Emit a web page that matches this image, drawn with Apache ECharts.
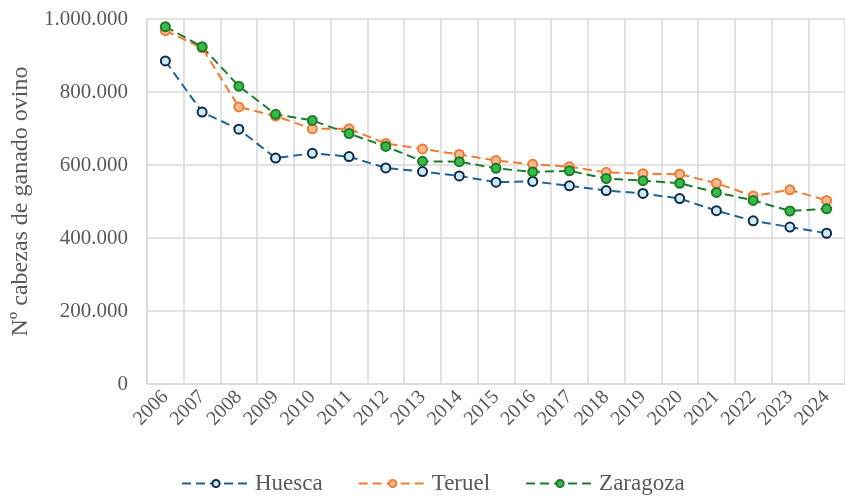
<!DOCTYPE html>
<html>
<head>
<meta charset="utf-8">
<script src="https://cdn.jsdelivr.net/npm/echarts@6/dist/echarts.min.js"></script>
<style>
  html, body { margin: 0; padding: 0; background: #fff; }
  #chart { width: 845px; height: 498px; }
</style>
</head>
<body>
<div id="chart"></div>
<script>
// datos
var years = ['2006','2007','2008','2009','2010','2011','2012','2013','2014','2015',
             '2016','2017','2018','2019','2020','2021','2022','2023','2024'];
var huesca = [885000, 745000, 698000, 619000, 632000, 623000, 592000, 582000, 570000, 553000,
              555000, 543000, 530000, 522000, 508000, 475000, 447000, 430000, 413000];
var teruel = [968000, 921000, 759000, 734000, 699000, 699000, 659000, 644000, 629000, 612000,
              602000, 595000, 580000, 576000, 575000, 550000, 515000, 532000, 503000];
var zaragoza = [979000, 924000, 816000, 739000, 722000, 686000, 651000, 610000, 609000, 591000,
                581000, 584000, 563000, 557000, 550000, 525000, 503000, 474000, 480000];

var serif = 'Liberation Serif';
var grey = '#595959';

function fmt(v) {
    return String(v).replace(/\B(?=(\d{3})+(?!\d))/g, '.');
}

function serie(name, data, line, fill, border) {
    return {
        name: name,
        type: 'line',
        data: data,
        symbol: 'circle',
        symbolSize: 9,
        lineStyle: { color: line, width: 2, type: [9, 5] },
        itemStyle: { color: fill, borderColor: border, borderWidth: 2 }
    };
}

var chart = echarts.init(document.getElementById('chart'));
chart.setOption({
    animation: false,
    grid: { left: 147, right: -8, top: 19, bottom: 114 },
    legend: {
        top: 467,
        left: 176,
        itemWidth: 68,
        itemHeight: 9,
        itemGap: 35,
        textStyle: { fontFamily: serif, fontSize: 23, color: grey }
    },
    xAxis: {
        type: 'category',
        data: years,
        boundaryGap: true,
        axisLine: { lineStyle: { color: '#d9d9d9', width: 1.5 } },
        axisTick: { show: false },
        splitLine: { show: true, interval: 0, lineStyle: { color: '#d9d9d9', width: 1.5 } },
        axisLabel: { interval: 0, rotate: 45, margin: 10, fontFamily: serif, fontSize: 20, color: grey }
    },
    yAxis: {
        type: 'value',
        min: 0,
        max: 1000000,
        interval: 200000,
        name: 'Nº cabezas de ganado ovino',
        nameLocation: 'middle',
        nameGap: 112,
        nameTextStyle: { fontFamily: serif, fontSize: 24, color: grey },
        axisLine: { show: true, lineStyle: { color: '#d9d9d9', width: 1.5 } },
        splitLine: { lineStyle: { color: '#d9d9d9', width: 1.5 } },
        axisLabel: { margin: 19, fontFamily: serif, fontSize: 21, color: grey, formatter: fmt }
    },
    series: [
        serie('Huesca', huesca, '#1f6391', '#cdeaf8', '#0e2a47'),
        serie('Teruel', teruel, '#ed7d31', '#f6b995', '#ed7d31'),
        serie('Zaragoza', zaragoza, '#1e7a2c', '#37bb47', '#1e7a2c')
    ]
});
</script>
</body>
</html>
